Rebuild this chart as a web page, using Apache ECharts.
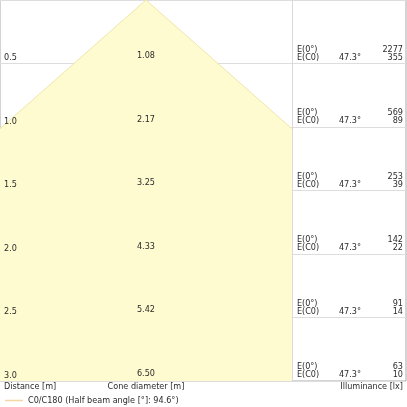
<!DOCTYPE html>
<html><head><meta charset="utf-8">
<script src="https://cdn.jsdelivr.net/npm/echarts@6/dist/echarts.min.js"></script>
<style>html,body{margin:0;padding:0;background:#fff}#c{width:407px;height:407px}</style>
</head><body><div id="c"></div>
<script>
// ---- data ----
const distances = [0.5, 1.0, 1.5, 2.0, 2.5, 3.0];
const distanceLabels = ['0.5', '1.0', '1.5', '2.0', '2.5', '3.0'];
const coneDiameters = ['1.08', '2.17', '3.25', '4.33', '5.42', '6.50'];
const illumE0 = [2277, 569, 253, 142, 91, 63];
const illumEC0 = [355, 89, 39, 22, 14, 10];
const halfBeamAngleText = '47.3°';
const legendName = 'C0/C180 (Half beam angle [°]: 94.6°)';
const headerLabels = ['Distance [m]', 'Cone diameter [m]', 'Illuminance [lx]'];

// ---- axis extents (metres) ----
const panelHalf = 1.10;   // half width of the cone panel
const xMin = -panelHalf, xMax = 1.96;
const yMaxDist = 3.0;

// cone edge slope: radius per metre, from the 1.0 m diameter
const slope = parseFloat(coneDiameters[1]) / 2 / distances[1];
const cornerD = panelHalf / slope;
const conePoly = [[0, 0], [panelHalf, cornerD], [panelHalf, yMaxDist], [-panelHalf, yMaxDist], [-panelHalf, cornerD]];
const coneEdge = [[-panelHalf, cornerD], [0, 0], [panelHalf, cornerD]];

const FONT = '"DejaVu Sans Condensed", "DejaVu Sans", sans-serif';
const FS = 9;
const TXT = '#2b2b2b';

const chart = echarts.init(document.getElementById('c'), null, {renderer: 'canvas'});

function txt(x, y, text, align) {
  return {type: 'text', x: x, y: y, silent: true,
    style: {text: text, fill: TXT, fontSize: FS, fontFamily: FONT, align: align, verticalAlign: 'middle'}};
}

chart.setOption({
  animation: false,
  backgroundColor: '#ffffff',
  grid: {left: 0, top: 0, width: 406, height: 381, show: true, borderColor: '#a8a8a8', borderWidth: 1, containLabel: false},
  xAxis: {type: 'value', min: xMin, max: xMax, show: false},
  yAxis: {type: 'value', inverse: true, min: 0, max: yMaxDist, interval: 0.5,
    axisLabel: {show: false}, axisLine: {show: false}, axisTick: {show: false},
    splitLine: {show: true, lineStyle: {color: '#dddddd', width: 1}}},
  legend: {left: 5, top: 396, padding: 0, itemWidth: 18, itemHeight: 1.5, icon: 'rect',
    textStyle: {fontSize: FS, fontFamily: FONT, color: TXT}, data: [legendName]},
  series: [
    {
      type: 'custom', name: 'cone', z: 1,
      data: [[0, 0]],
      renderItem: function (params, api) {
        const pts = conePoly.map(p => api.coord(p));
        const edge = coneEdge.map(p => api.coord(p));
        return {type: 'group', children: [
          {type: 'polygon', shape: {points: pts}, style: {fill: '#fefbd0'}},
          {type: 'polyline', shape: {points: edge}, style: {stroke: '#eee6aa', lineWidth: 1, fill: null}}
        ]};
      },
      markLine: {silent: true, symbol: 'none', label: {show: false},
        lineStyle: {color: '#d9d9d9', type: 'solid', width: 1},
        data: [{xAxis: panelHalf}]}
    },
    {
      type: 'custom', name: 'labels', z: 5,
      data: distances.map((d, i) => [i, d]),
      renderItem: function (params, api) {
        const i = api.value(0);
        const y = api.coord([0, api.value(1)])[1];
        const xl = api.coord([xMin, 0])[0];
        const xc = api.coord([0, 0])[0];
        const xe = api.coord([panelHalf, 0])[0];
        const xr = api.coord([xMax, 0])[0];
        return {type: 'group', children: [
          txt(xl + 4, y - 5.5, distanceLabels[i], 'left'),
          txt(xc, y - 7.5, coneDiameters[i], 'center'),
          txt(xe + 5, y - 14, 'E(0°)', 'left'),
          txt(xe + 5, y - 6, 'E(C0)', 'left'),
          txt(xe + 47, y - 6, halfBeamAngleText, 'left'),
          txt(xr - 3, y - 14, String(illumE0[i]), 'right'),
          txt(xr - 3, y - 6, String(illumEC0[i]), 'right')
        ]};
      }
    },
    {type: 'line', name: legendName, data: [], symbol: 'none', color: '#f6d6a6', lineStyle: {color: '#f6d6a6'}}
  ],
  graphic: [
    {type: 'text', x: 4, y: 387, style: {text: headerLabels[0], fill: TXT, fontSize: FS, fontFamily: FONT, align: 'left', verticalAlign: 'middle'}},
    {type: 'text', x: 146, y: 387, style: {text: headerLabels[1], fill: TXT, fontSize: FS, fontFamily: FONT, align: 'center', verticalAlign: 'middle'}},
    {type: 'text', x: 403, y: 387, style: {text: headerLabels[2], fill: TXT, fontSize: FS, fontFamily: FONT, align: 'right', verticalAlign: 'middle'}}
  ]
});
</script></body></html>
